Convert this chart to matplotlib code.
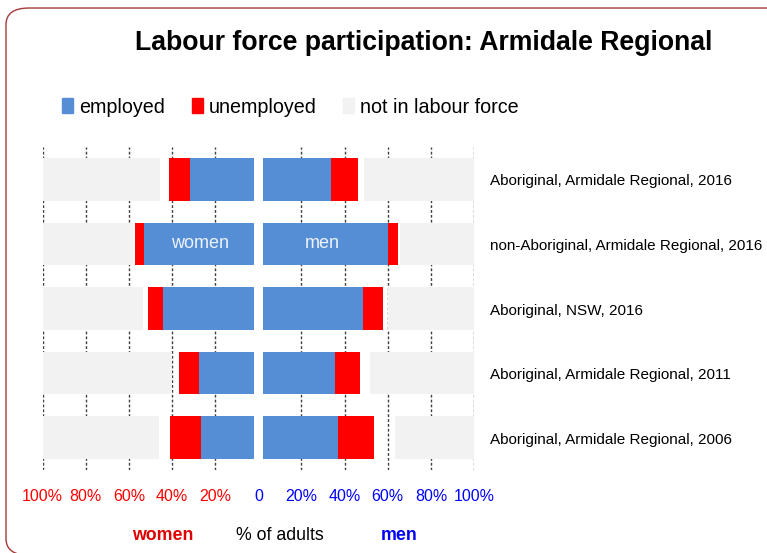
import matplotlib.pyplot as plt
from matplotlib.patches import FancyBboxPatch, Rectangle

plt.rcParams['font.family'] = ['Liberation Sans', 'DejaVu Sans']

rows = ["Aboriginal, Armidale Regional, 2016",
        "non-Aboriginal, Armidale Regional, 2016",
        "Aboriginal, NSW, 2016",
        "Aboriginal, Armidale Regional, 2011",
        "Aboriginal, Armidale Regional, 2006"]

# percent of adults
women_employed = [29.7, 51.0, 41.9, 25.5, 24.6]
women_unemployed = [9.6, 3.9, 7.1, 9.0, 14.1]
women_nilf = [54.3, 42.0, 46.3, 59.8, 54.0]

men_employed = [31.7, 57.8, 46.2, 33.4, 34.9]
men_unemployed = [12.4, 4.8, 9.5, 11.6, 16.6]
men_nilf = [51.0, 34.3, 39.9, 48.2, 36.6]

tick_vals = [-100, -80, -60, -40, -20, 0, 20, 40, 60, 80, 100]
tick_text = ["100%", "80%", "60%", "40%", "20%", "0", "20%", "40%", "60%", "80%", "100%"]

blue = "#558ED5"
red = "#FF0000"
grey = "#F2F2F2"
gap = 2.1   # white space either side of the centre line
h = 0.66

fig = plt.figure(figsize=(7.67, 5.53), dpi=100)
ax = fig.add_axes([0.0557, 0.150, 0.5623, 0.584])

y = list(range(len(rows)))
for i in y:
    # women on the left
    ax.barh(i, -women_employed[i], left=-gap, height=h, color=blue, zorder=2)
    ax.barh(i, -women_unemployed[i], left=-gap - women_employed[i], height=h, color=red, zorder=2)
    ax.barh(i, women_nilf[i], left=-100, height=h, color=grey, zorder=2)
    # men on the right
    ax.barh(i, men_employed[i], left=gap, height=h, color=blue, zorder=2)
    ax.barh(i, men_unemployed[i], left=gap + men_employed[i], height=h, color=red, zorder=2)
    ax.barh(i, men_nilf[i], left=100 - men_nilf[i], height=h, color=grey, zorder=2)
    ax.text(107.5, i + 0.03, rows[i], va='center', ha='left', fontsize=11)

ax.text(-27, 1, "women", color="#EEF2FA", ha='center', va='center', fontsize=13)
ax.text(29.8, 1, "men", color="#EEF2FA", ha='center', va='center', fontsize=13)

for v in tick_vals:
    if v != 0:
        ax.axvline(v, color="#404040", lw=1.0, ls=(0, (2, 1.5)), zorder=1)

ax.set_xlim(-100, 100)
ax.set_ylim(len(rows) - 0.5, -0.5)
ax.set_yticks([])
ax.set_xticks(tick_vals)
ax.set_xticklabels(tick_text, fontsize=11.5)
for lab, v in zip(ax.get_xticklabels(), tick_vals):
    lab.set_color(red if v < 0 else "#0000FF")
ax.tick_params(axis='x', length=0, pad=14)
for s in ax.spines.values():
    s.set_visible(False)

fig.text(0.553, 0.923, "Labour force participation: Armidale Regional",
         ha='center', va='center', fontsize=19.2, fontweight='bold')

# legend
leg = [(62, blue, "employed"), (192, red, "unemployed"), (343, grey, "not in labour force")]
for x0, c, t in leg:
    fig.patches.append(Rectangle((x0 / 767, 0.796), 11 / 767, 15 / 553,
                                 transform=fig.transFigure, color=c))
    fig.text((x0 + 17) / 767, 0.806, t, va='center', ha='left', fontsize=14.2)

fig.text(163 / 767, 0.032, "women", color="#E00000", fontweight='bold',
         ha='center', va='center', fontsize=12.8)
fig.text(280 / 767, 0.032, "% of adults", ha='center', va='center', fontsize=12.8)
fig.text(399 / 767, 0.032, "men", color="#0000FF", fontweight='bold',
         ha='center', va='center', fontsize=12.8)

box = FancyBboxPatch((6 / 767, -0.004), 1.03, 0.9895, boxstyle="round,pad=0,rounding_size=0.03",
                     transform=fig.transFigure, fill=False, edgecolor="#A33A3A", lw=1.0)
fig.patches.append(box)

fig.savefig("out.png", dpi=100)
